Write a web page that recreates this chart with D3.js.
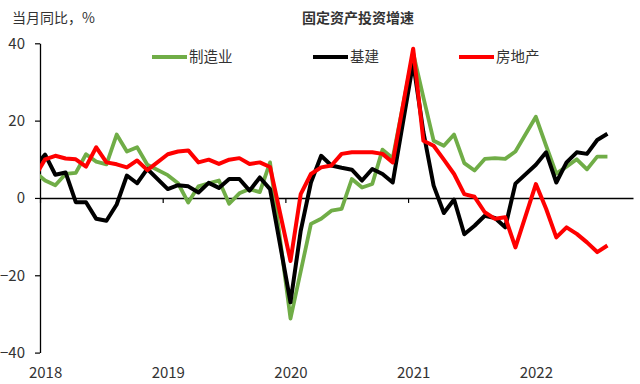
<!DOCTYPE html>
<html>
<head>
<meta charset="utf-8">
<script src="https://cdn.jsdelivr.net/npm/d3@7"></script>
<style>
  body { margin: 0; background: #fff; }
  text { font-family: "Noto Sans CJK SC", "Noto Sans", sans-serif; fill: #333; }
</style>
</head>
<body>
<svg width="640" height="384"></svg>
<script>
// monthly, 2017-12 .. 2022-09; January is null (reported together with February)
const months = d3.timeMonth.range(new Date(2017, 11, 1), new Date(2022, 9, 1))

const manufacturing = [9.0,
  null, 4.5, 3.3, 6.2, 6.5, 11.3, 9.4, 8.7, 16.4, 12.0, 13.1, 8.6,
  null, 5.9, 3.8, -1.2, 3.0, 3.8, 4.5, -1.5, 1.2, 2.3, 1.5, 9.2,
  null, -31.2, -19.0, -6.7, -5.4, -3.3, -2.8, 4.9, 2.7, 3.6, 12.5, 10.3,
  null, 37.5, 26.0, 14.8, 13.5, 16.4, 9.0, 7.1, 10.1, 10.3, 10.1, 12.0,
  null, 21.0, 13.5, 6.3, 8.1, 10.0, 7.4, 10.7, 10.7]

const infrastructure = [5.0,
  null, 11.2, 6.0, 6.6, -1.1, -1.1, -5.4, -5.9, -1.7, 5.8, 3.8, 7.5,
  null, 2.3, 3.3, 3.0, 1.4, 3.9, 2.6, 4.9, 4.9, 1.9, 5.3, 2.3,
  null, -27.0, -8.5, 4.0, 10.9, 8.4, 7.8, 7.3, 4.5, 7.5, 6.2, 4.0,
  null, 35.0, 17.0, 3.2, -3.9, -0.4, -9.4, -7.2, -4.6, -5.2, -7.6, 3.7,
  null, 8.6, 11.8, 4.0, 9.2, 11.8, 11.4, 15.0, 16.6]

const realEstate = [1.0,
  null, 10.0, 10.9, 10.2, 10.0, 8.1, 13.1, 9.2, 8.7, 7.9, 9.7, 7.2,
  null, 11.3, 12.0, 12.3, 9.2, 9.9, 8.8, 9.9, 10.3, 8.8, 9.2, 8.0,
  null, -16.3, 1.0, 6.2, 7.9, 8.4, 11.4, 11.8, 11.8, 11.8, 11.4, 9.2,
  null, 38.6, 14.8, 13.5, 9.9, 6.2, 1.0, 0.3, -3.7, -5.4, -5.0, -12.8,
  null, 3.6, -2.8, -10.2, -7.6, -9.3, -11.5, -14.0, -12.3]

const yTicks = [-40, -20, 0, 20, 40]
const yearLabels = ['2018', '2019', '2020', '2021', '2022']

const series = [
  { name: '制造业', values: manufacturing, color: '#70AD47', width: 3.8, lx: 152 },
  { name: '基建', values: infrastructure, color: '#000000', width: 4, lx: 313 },
  { name: '房地产', values: realEstate, color: '#FF0000', width: 4, lx: 459 }
]

const svg = d3.select('svg')
const margin = { top: 43.3, right: 7, bottom: 31.4, left: 40 }
const width = 640 - margin.left - margin.right
const height = 384 - margin.top - margin.bottom

// slot index: Feb 2018 = 0, one slot per month
const slot = i => i - 2
const x = d3.scaleLinear().domain([-0.5, 57.5]).range([margin.left, margin.left + width])
const y = d3.scaleLinear().domain([-40, 40]).range([margin.top + height, margin.top])

svg.append('clipPath').attr('id', 'plot')
  .append('rect')
  .attr('x', margin.left).attr('y', 0)
  .attr('width', width).attr('height', 384)

// y axis
const yAxis = svg.append('g')
  .attr('transform', `translate(${margin.left},0)`)
  .call(d3.axisLeft(y).tickValues(yTicks).tickSize(5).tickSizeOuter(0).tickPadding(10))
yAxis.select('.domain').attr('stroke', '#000').attr('stroke-width', 1.3)
yAxis.selectAll('.tick line').attr('stroke', '#000').attr('stroke-width', 1.2)
yAxis.selectAll('.tick text').attr('font-size', 15).attr('fill', '#333')
  .style('font-family', '"Noto Sans CJK SC", "Noto Sans", sans-serif')

// zero line with year ticks
const xAxis = svg.append('g')
  .attr('transform', `translate(0,${y(0)})`)
  .call(d3.axisBottom(x).tickValues([-0.5, 11.5, 23.5, 35.5, 47.5]).tickSize(5).tickSizeOuter(0).tickFormat(''))
xAxis.select('.domain').attr('stroke', '#000').attr('stroke-width', 1.5)
xAxis.selectAll('.tick line').attr('stroke', '#000').attr('stroke-width', 1.2)

// year labels at the bottom
const xLabels = svg.append('g')
  .attr('transform', `translate(0,${margin.top + height})`)
  .call(d3.axisBottom(x).tickValues([0, 12, 24, 36, 48]).tickSize(0).tickPadding(15)
    .tickFormat((d, i) => yearLabels[i]))
xLabels.select('.domain').remove()
xLabels.selectAll('text').attr('font-size', 15).attr('fill', '#333')
  .style('font-family', '"Noto Sans CJK SC", "Noto Sans", sans-serif')

const line = d3.line()
  .x(d => x(d.k))
  .y(d => y(d.v))

const g = svg.append('g').attr('clip-path', 'url(#plot)')
series.forEach(s => {
  const pts = s.values.map((v, i) => ({ k: slot(i), v: v, date: months[i] }))
    .filter(d => d.v != null)
  g.append('path')
    .datum(pts)
    .attr('fill', 'none')
    .attr('stroke', s.color)
    .attr('stroke-width', s.width)
    .attr('stroke-linejoin', 'round')
    .attr('d', line)
})

// legend
const legend = svg.append('g')
series.forEach(s => {
  legend.append('line')
    .attr('x1', s.lx).attr('x2', s.lx + 35)
    .attr('y1', 57).attr('y2', 57)
    .attr('stroke', s.color).attr('stroke-width', 4)
  legend.append('text')
    .attr('x', s.lx + 37).attr('y', 57)
    .attr('dy', '0.35em')
    .attr('font-size', 14.5)
    .text(s.name)
})

svg.append('text')
  .attr('x', 12).attr('y', 18).attr('dy', '0.35em')
  .attr('font-size', 14)
  .text('当月同比，%')

svg.append('text')
  .attr('x', 358).attr('y', 18).attr('dy', '0.35em')
  .attr('text-anchor', 'middle')
  .attr('font-size', 14)
  .attr('font-weight', 'bold')
  .attr('fill', '#111')
  .text('固定资产投资增速')
</script>
</body>
</html>
